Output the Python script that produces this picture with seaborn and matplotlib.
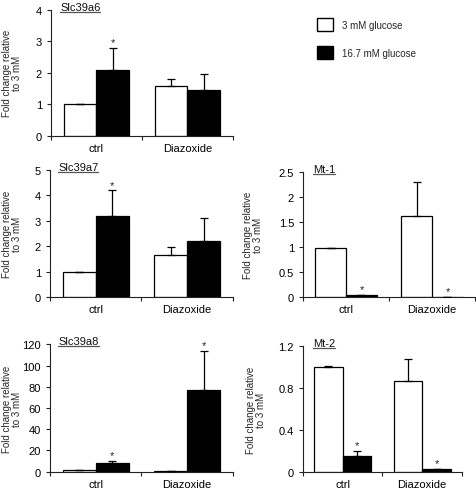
import numpy as np
import pandas as pd
import matplotlib
matplotlib.use("Agg")
import matplotlib.pyplot as plt
import matplotlib.transforms as mtransforms
from matplotlib.patches import Patch
from matplotlib.lines import Line2D
import seaborn as sns

# ---------------- data ----------------
treatments = ["ctrl", "Diazoxide"]
glucose = ["3 mM glucose", "16.7 mM glucose"]

slc39a6_low = [1.00, 1.57]
slc39a6_low_err = [0.02, 0.23]
slc39a6_high = [2.10, 1.46]
slc39a6_high_err = [0.68, 0.50]
slc39a6_star = [True, False]

slc39a7_low = [0.97, 1.67]
slc39a7_low_err = [0.02, 0.30]
slc39a7_high = [3.17, 2.22]
slc39a7_high_err = [1.03, 0.88]
slc39a7_star = [True, False]

slc39a8_low = [1.5, 1.0]
slc39a8_low_err = [0.2, 0.1]
slc39a8_high = [8.5, 77.0]
slc39a8_high_err = [1.8, 37.0]
slc39a8_star = [True, True]

mt1_low = [0.98, 1.63]
mt1_low_err = [0.01, 0.67]
mt1_high = [0.05, 0.01]
mt1_high_err = [0.0, 0.0]
mt1_star = [True, True]

mt2_low = [1.00, 0.87]
mt2_low_err = [0.005, 0.21]
mt2_high = [0.15, 0.025]
mt2_high_err = [0.05, 0.005]
mt2_star = [True, True]

slc39a6_yticks = [0, 1, 2, 3, 4]
slc39a7_yticks = [0, 1, 2, 3, 4, 5]
slc39a8_yticks = [0, 20, 40, 60, 80, 100, 120]
mt1_yticks = [0, 0.5, 1, 1.5, 2, 2.5]
mt2_yticks = [0, 0.4, 0.8, 1.2]
mt2_yticklabels = ["0", "0.4", "0.8", "1.2"]

ylabel_text = "Fold change relative\nto 3 mM"

# ---------------- style ----------------
sns.set_style("ticks")
plt.rcParams["font.family"] = ["Liberation Sans", "DejaVu Sans"]
AX_COLOR = "#222222"

W, H = 477, 489
fig = plt.figure(figsize=(W / 100, H / 100), dpi=100)
fig.patch.set_facecolor("white")


def rect(left, right, top, bottom):
    return [left / W, 1 - bottom / H, (right - left) / W, (bottom - top) / H]


def panel(r, title, low, low_err, high, high_err, stars, yticks, ylab_x, title_x,
          yticklabels=None):
    ax = fig.add_axes(r)
    df = pd.DataFrame({
        "treatment": treatments * 2,
        "glucose": [glucose[0]] * 2 + [glucose[1]] * 2,
        "value": list(low) + list(high),
    })
    sns.barplot(data=df, x="treatment", y="value", hue="glucose",
                order=treatments, hue_order=glucose,
                palette={glucose[0]: "white", glucose[1]: "black"},
                saturation=1, edgecolor="black", linewidth=0.9, width=0.72,
                errorbar=None, legend=False, ax=ax)
    for cont, errs, is_high in zip(ax.containers, [low_err, high_err], [False, True]):
        xs = [b.get_x() + b.get_width() / 2 for b in cont]
        ys = [b.get_height() for b in cont]
        ax.errorbar(xs, ys, yerr=[np.zeros(len(errs)), errs], fmt="none",
                    ecolor="black", elinewidth=0.9, capsize=3, capthick=0.9,
                    zorder=3)
        if is_high:
            for x, y, e, s in zip(xs, ys, errs, stars):
                if s:
                    ax.annotate("*", xy=(x, y + e), xytext=(0, 0.5),
                                textcoords="offset points", ha="center",
                                va="bottom", fontsize=8, annotation_clip=False)
    ax.set_xlim(-0.5, 1.5)
    ax.set_ylim(yticks[0], yticks[-1])
    ax.set_yticks(yticks)
    if yticklabels is None:
        yticklabels = [f"{t:g}" for t in yticks]
    ax.set_yticklabels(yticklabels)
    ax.set_xticks([0, 1])
    ax.set_xticklabels(treatments)
    ax.set_xticks([-0.5, 0.5, 1.5], minor=True)
    ax.tick_params(axis="x", which="major", length=0, pad=5, labelsize=8,
                   colors="black")
    ax.tick_params(axis="x", which="minor", length=3, width=0.8,
                   direction="out", color=AX_COLOR)
    ax.tick_params(axis="y", length=3, width=0.8, direction="out", pad=3.5,
                   labelsize=8, color=AX_COLOR, labelcolor="black")
    for side in ["top", "right"]:
        ax.spines[side].set_visible(False)
    for side in ["left", "bottom"]:
        ax.spines[side].set_color(AX_COLOR)
        ax.spines[side].set_linewidth(0.8)
    ax.set_xlabel("")
    ax.set_ylabel(ylabel_text, fontsize=7, linespacing=1.0)
    ax.yaxis.set_label_coords(ylab_x, 0.5)
    # underlined gene name
    t = ax.text(title_x, 1.0, title, transform=ax.transAxes, ha="left",
                va="baseline", fontsize=8, color="#111111")
    fig.canvas.draw()
    bb = t.get_window_extent()
    inv = ax.transAxes.inverted()
    x0 = inv.transform((bb.x0, 0))[0]
    x1 = inv.transform((bb.x1, 0))[0]
    tr = mtransforms.offset_copy(ax.transAxes, fig=fig, y=-2, units="dots")
    ax.add_line(Line2D([x0, x1], [1.0, 1.0], transform=tr, color="#555555",
                       linewidth=0.9, clip_on=False))
    return ax


panel(rect(51, 233, 10.7, 137), "Slc39a6", slc39a6_low, slc39a6_low_err,
      slc39a6_high, slc39a6_high_err, slc39a6_star, slc39a6_yticks,
      -0.16, 0.05)
panel(rect(50, 233, 171, 298), "Slc39a7", slc39a7_low, slc39a7_low_err,
      slc39a7_high, slc39a7_high_err, slc39a7_star, slc39a7_yticks,
      -0.155, 0.045)
panel(rect(50, 233, 345.3, 472.7), "Slc39a8", slc39a8_low, slc39a8_low_err,
      slc39a8_high, slc39a8_high_err, slc39a8_star, slc39a8_yticks,
      -0.155, 0.045)
panel(rect(303, 475, 173, 298), "Mt-1", mt1_low, mt1_low_err,
      mt1_high, mt1_high_err, mt1_star, mt1_yticks, -0.235, 0.058)
panel(rect(303, 462, 347, 473), "Mt-2", mt2_low, mt2_low_err,
      mt2_high, mt2_high_err, mt2_star, mt2_yticks, -0.235, 0.063,
      yticklabels=mt2_yticklabels)

handles = [Patch(facecolor="white", edgecolor="black", linewidth=1.0),
           Patch(facecolor="black", edgecolor="black", linewidth=1.0)]
fig.legend(handles, glucose, loc="upper left",
           bbox_to_anchor=(317 / W, 1 - 19 / H), frameon=False, fontsize=7,
           handlelength=1.65, handleheight=1.65, labelspacing=1.6,
           handletextpad=0.9, borderpad=0, borderaxespad=0)

fig.savefig("out.png", dpi=100, facecolor="white")
